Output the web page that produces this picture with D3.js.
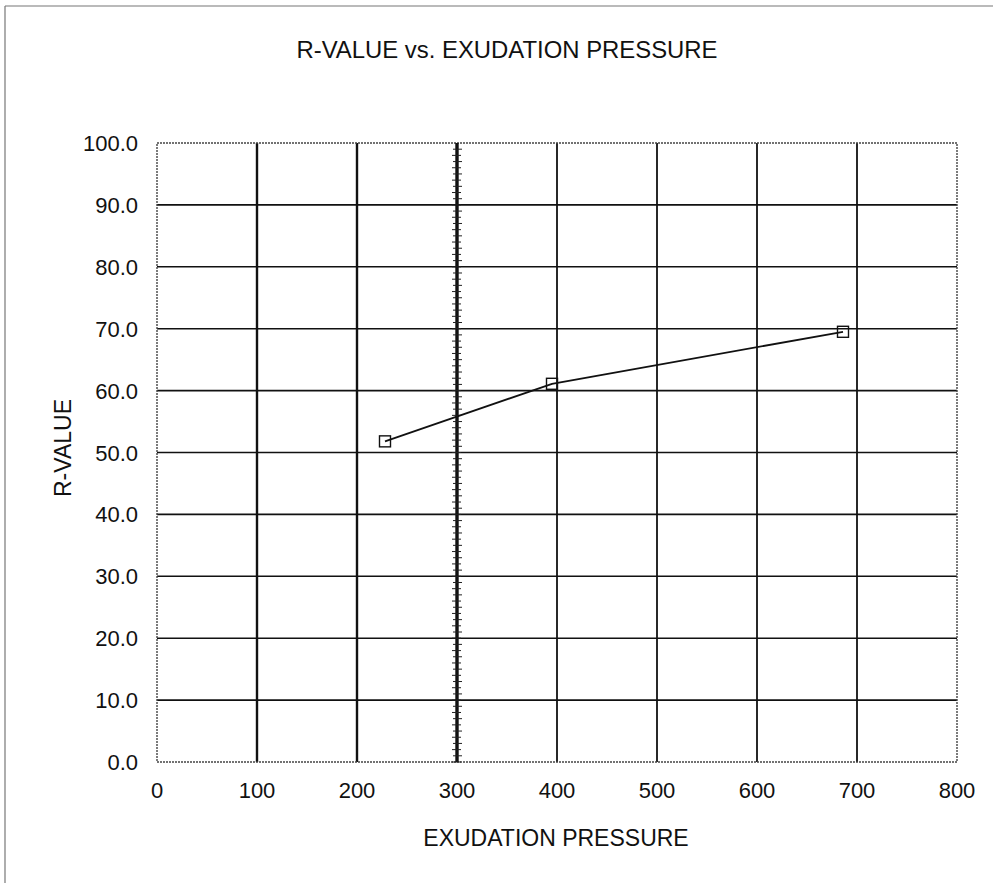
<!DOCTYPE html>
<html>
<head>
<meta charset="utf-8">
<script src="https://cdn.jsdelivr.net/npm/d3@7"></script>
<style>
  body { margin: 0; background: #fff; }
  text { font-family: "Liberation Sans", Arial, sans-serif; fill: #111; }
</style>
</head>
<body>
<script>
// data
var pressure = [228, 395, 686];
var rValue = [51.8, 61.1, 69.5];
var xTicks = [0, 100, 200, 300, 400, 500, 600, 700, 800];
var yTicks = [0, 10, 20, 30, 40, 50, 60, 70, 80, 90, 100];
var markerPressure = 300;

var width = 993, height = 883;
var margin = {top: 143, right: 36, bottom: 121, left: 157};

var svg = d3.select("body").append("svg")
  .attr("width", width)
  .attr("height", height);

// outer frame (only top and left edges show in the scan)
svg.append("line")
  .attr("x1", 5).attr("y1", 6).attr("x2", width).attr("y2", 6)
  .attr("stroke", "#777").attr("stroke-width", 1.2);
svg.append("line")
  .attr("x1", 5).attr("y1", 6).attr("x2", 5).attr("y2", height)
  .attr("stroke", "#777").attr("stroke-width", 1.2);

var x = d3.scaleLinear().domain([0, 800]).range([margin.left, width - margin.right]);
var y = d3.scaleLinear().domain([0, 100]).range([height - margin.bottom, margin.top]);

var g = svg.append("g");

// horizontal grid
g.selectAll(".hgrid")
  .data(yTicks.slice(1, -1))
  .enter().append("line")
  .attr("x1", x(0)).attr("x2", x(800))
  .attr("y1", function(d) { return y(d); })
  .attr("y2", function(d) { return y(d); })
  .attr("stroke", "#111").attr("stroke-width", 1.6);

// vertical grid
g.selectAll(".vgrid")
  .data(xTicks.slice(1, -1).filter(function(d) { return d != markerPressure; }))
  .enter().append("line")
  .attr("x1", function(d) { return x(d); })
  .attr("x2", function(d) { return x(d); })
  .attr("y1", y(0)).attr("y2", y(100))
  .attr("stroke", "#111")
  .attr("stroke-width", function(d) { return d <= 200 ? 2.4 : 1.8; });

// plot border, grey and thin
g.append("rect")
  .attr("x", x(0)).attr("y", y(100))
  .attr("width", x(800) - x(0)).attr("height", y(0) - y(100))
  .attr("fill", "none").attr("stroke", "#444").attr("stroke-width", 1.4)
  .attr("stroke-dasharray", "2,1");

// the heavy 300 line with little tick marks along it
g.append("line")
  .attr("x1", x(markerPressure)).attr("x2", x(markerPressure))
  .attr("y1", y(0)).attr("y2", y(100))
  .attr("stroke", "#111").attr("stroke-width", 3.4);
g.selectAll(".mtick")
  .data(d3.range(0, 100, 1))
  .enter().append("line")
  .attr("x1", function(d, i) { return x(markerPressure) - (i % 2 ? 4 : 5); })
  .attr("x2", function(d, i) { return x(markerPressure) + (i % 2 ? 5 : 4); })
  .attr("y1", function(d) { return y(d); })
  .attr("y2", function(d) { return y(d); })
  .attr("stroke", "#222").attr("stroke-width", 1);

// tick labels
svg.selectAll(".xlab")
  .data(xTicks)
  .enter().append("text")
  .attr("x", function(d) { return x(d); })
  .attr("y", y(0) + 36)
  .attr("text-anchor", "middle")
  .attr("font-size", 22)
  .text(function(d) { return d; });

svg.selectAll(".ylab")
  .data(yTicks)
  .enter().append("text")
  .attr("x", x(0) - 19)
  .attr("y", function(d) { return y(d) + 8; })
  .attr("text-anchor", "end")
  .attr("font-size", 22)
  .text(function(d) { return d.toFixed(1); });

// series
var pts = pressure.map(function(p, i) { return [p, rValue[i]]; });
var line = d3.line()
  .x(function(d) { return x(d[0]); })
  .y(function(d) { return y(d[1]); });

g.append("path")
  .datum(pts)
  .attr("d", line)
  .attr("fill", "none")
  .attr("stroke", "#111")
  .attr("stroke-width", 1.8);

g.selectAll(".pt")
  .data(pts)
  .enter().append("rect")
  .attr("x", function(d) { return x(d[0]) - 5.5; })
  .attr("y", function(d) { return y(d[1]) - 5.5; })
  .attr("width", 11).attr("height", 11)
  .attr("fill", "none")
  .attr("stroke", "#111").attr("stroke-width", 1.4);

// titles
svg.append("text")
  .attr("x", 507).attr("y", 58)
  .attr("text-anchor", "middle")
  .attr("font-size", 23)
  .attr("textLength", 421)
  .attr("lengthAdjust", "spacingAndGlyphs")
  .text("R-VALUE vs. EXUDATION PRESSURE");

svg.append("text")
  .attr("x", 556).attr("y", 846)
  .attr("text-anchor", "middle")
  .attr("font-size", 23)
  .text("EXUDATION PRESSURE");

svg.append("text")
  .attr("transform", "translate(71,448) rotate(-90)")
  .attr("text-anchor", "middle")
  .attr("font-size", 23)
  .text("R-VALUE");
</script>
</body>
</html>
